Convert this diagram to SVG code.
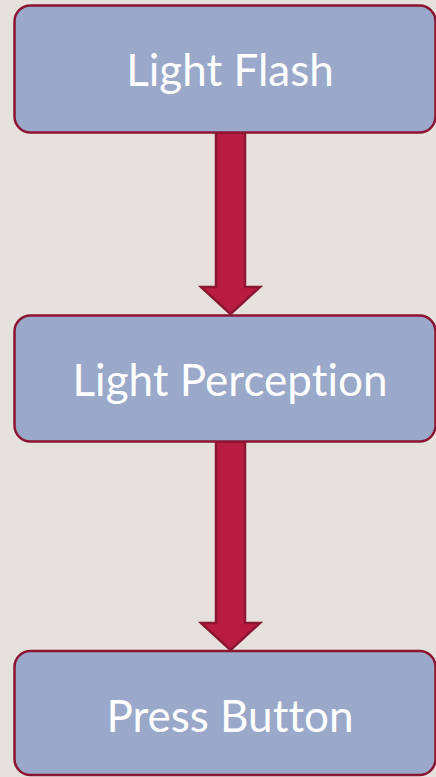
<svg xmlns="http://www.w3.org/2000/svg" width="436" height="777" viewBox="0 0 436 777">
  <style>
    .box { fill: #9aa8c9; stroke: #8c1531; stroke-width: 2.5; }
    .lbl { fill: #ffffff; font-family: Lato, "Open Sans", sans-serif; font-size: 44px; text-anchor: middle; font-variant-ligatures: none; }
    .arrow { fill: #b81d41; stroke: #8c1531; stroke-width: 2.5; stroke-linejoin: miter; }
  </style>
  <rect width="436" height="777" fill="#e5e2de"/>
  <g id="connectors">
    <path class="arrow" d="M216,132 L245,132 L245,287 L260,287 L230.5,314 L201,287 L216,287 Z"/>
    <path class="arrow" d="M216,441 L245,441 L245,623 L260,623 L230.5,650 L201,623 L216,623 Z"/>
  </g>
  <g id="node-light-flash">
    <rect class="box" x="14.5" y="5.5" width="421" height="127" rx="16"/>
    <text class="lbl" x="230" y="86">Light Flash</text>
  </g>
  <g id="node-light-perception">
    <rect class="box" x="14.5" y="315.5" width="421" height="126" rx="16"/>
    <text class="lbl" x="230" y="396">Light Perception</text>
  </g>
  <g id="node-press-button">
    <rect class="box" x="14.5" y="651" width="421" height="124" rx="16"/>
    <text class="lbl" x="230" y="731.5">Press Button</text>
  </g>
</svg>
